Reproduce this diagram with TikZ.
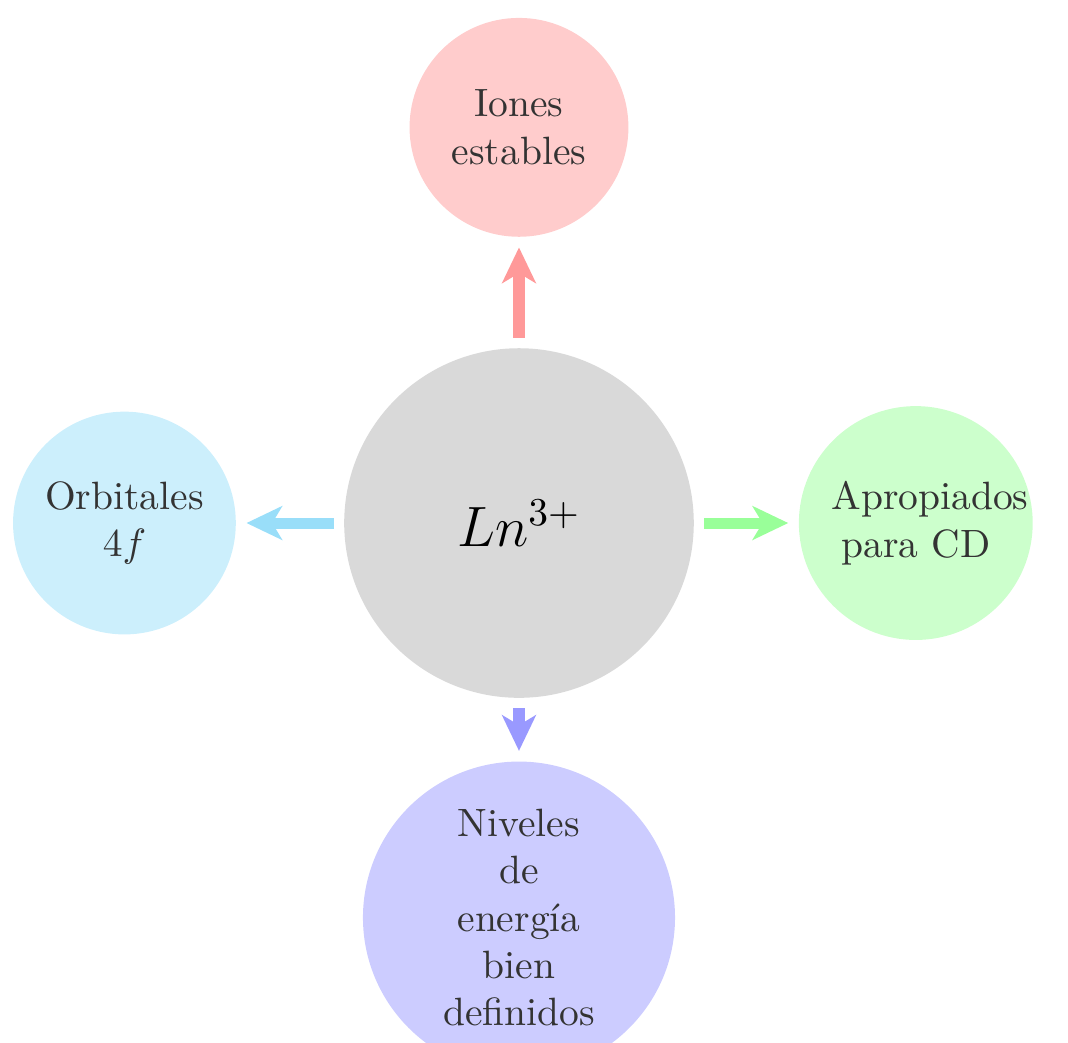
\documentclass[tikz,border=0pt]{standalone}
\usepackage{amsmath, amssymb}
\usepackage{tikz}
\usetikzlibrary{arrows.meta}

\begin{document}
\begin{tikzpicture}[
		bola/.style={circle, text=black!80, text width=1.5cm, align=center, inner sep=3.33pt},
		flecha/.style={line width=2.8pt, -{Stealth[length=9pt,width=8.5pt,inset=2.5pt]}, shorten <=2.5pt, shorten >=2.5pt}
	]
				\clip (-4.617,-4.617) rectangle (4.884,4.653);
				\useasboundingbox (-4.617,-4.617) rectangle (4.884,4.653);
				
				\node[circle, fill=gray!30, minimum size=3.11cm] (ln) at (0,0) {\Large $Ln^{3+}$};
				
				\node[bola, fill=red!20]   (iones)    at (0,3.52)  {Iones estables};
				\node[bola, fill=cyan!20]  (orbital)  at (-3.51,0) {Orbitales $4f$};
				\node[bola, fill=green!20, minimum size=2.08cm] (cd) at (3.53,0) {Apropiados para CD};
				\node[bola, fill=blue!20]  (niveles)  at (0,-3.51) {Niveles de energía bien definidos};
				
				%\draw[very thin,color=gray] (-4.6,-4.6) grid (4.8,4.6);
				\draw[flecha, red!40]   (ln) -- (iones);
				\draw[flecha, cyan!40]  (ln) -- (orbital);
				\draw[flecha, green!40] (ln) -- (cd);
				\draw[flecha, blue!40]  (ln) -- (niveles);
			\end{tikzpicture}
\end{document}
